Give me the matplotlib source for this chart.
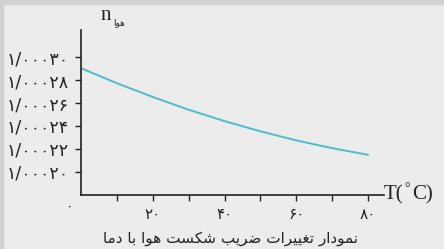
import numpy as np
import matplotlib
matplotlib.use("Agg")
import matplotlib.pyplot as plt
from matplotlib.patches import Rectangle

# data
temps = [0, 10, 20, 30, 40, 50, 60, 70, 80]
n_air = [1.0002903, 1.0002772, 1.0002652, 1.0002541, 1.0002442,
         1.0002353, 1.0002274, 1.0002206, 1.0002148]

y_ticks = [1.00020, 1.00022, 1.00024, 1.00026, 1.00028, 1.00030]
y_labels = ["۱/۰۰۰۲۰", "۱/۰۰۰۲۲", "۱/۰۰۰۲۴", "۱/۰۰۰۲۶", "۱/۰۰۰۲۸", "۱/۰۰۰۳۰"]
x_ticks = [10, 20, 30, 40, 50, 60, 70, 80]
x_labels = ["", "۲۰", "", "۴۰", "", "۶۰", "", "۸۰"]

caption = "نمودار تغییرات ضریب شکست هوا با دما"
n_sub = "هوا"

# (isolated, final, initial, medial); None for right-joining letters
FORMS = {
    "ا": (0xFE8D, 0xFE8E, None, None),
    "ب": (0xFE8F, 0xFE90, 0xFE91, 0xFE92),
    "ت": (0xFE95, 0xFE96, 0xFE97, 0xFE98),
    "د": (0xFEA9, 0xFEAA, None, None),
    "ر": (0xFEAD, 0xFEAE, None, None),
    "س": (0xFEB1, 0xFEB2, 0xFEB3, 0xFEB4),
    "ش": (0xFEB5, 0xFEB6, 0xFEB7, 0xFEB8),
    "ض": (0xFEBD, 0xFEBE, 0xFEBF, 0xFEC0),
    "غ": (0xFECD, 0xFECE, 0xFECF, 0xFED0),
    "م": (0xFEE1, 0xFEE2, 0xFEE3, 0xFEE4),
    "ن": (0xFEE5, 0xFEE6, 0xFEE7, 0xFEE8),
    "ه": (0xFEE9, 0xFEEA, 0xFEEB, 0xFEEC),
    "و": (0xFEED, 0xFEEE, None, None),
    "ی": (0xFBFC, 0xFBFD, 0xFBFE, 0xFBFF),
    "ک": (0xFB8E, 0xFB8F, 0xFB90, 0xFB91),
}


def shape(text):
    # matplotlib has no arabic shaping, so pick the joined forms by hand
    out = []
    for i, ch in enumerate(text):
        if ch not in FORMS:
            out.append(ch)
            continue
        prev = text[i - 1] if i > 0 else None
        nxt = text[i + 1] if i + 1 < len(text) else None
        join_prev = prev in FORMS and FORMS[prev][2] is not None
        join_next = nxt in FORMS and FORMS[ch][2] is not None
        iso, fin, ini, med = FORMS[ch]
        if join_prev and join_next:
            out.append(chr(med))
        elif join_prev:
            out.append(chr(fin))
        elif join_next:
            out.append(chr(ini))
        else:
            out.append(chr(iso))
    return "".join(out)[::-1]


fig = plt.figure(figsize=(4.44, 2.49), dpi=100)
fig.patch.set_facecolor("#ececec")
fig.patches.append(Rectangle((0, 1 - 4 / 249), 1, 4 / 249, transform=fig.transFigure,
                             color="#d2d2d2", zorder=0))
fig.patches.append(Rectangle((0, 0), 3 / 444, 1, transform=fig.transFigure,
                             color="#d2d2d2", zorder=0))

ax = fig.add_axes([0.1833, 0.2169, 0.6815, 0.6627])
ax.set_facecolor("none")

ax.plot(temps, n_air, color="#4dbec6", lw=1.4)

ax.set_xlim(0, 84.5)
ax.set_ylim(1.0001797, 1.0003238)

for s in ["top", "right"]:
    ax.spines[s].set_visible(False)
for s in ["left", "bottom"]:
    ax.spines[s].set_color("#222222")
    ax.spines[s].set_linewidth(1.2)

ax.set_xticks(x_ticks)
ax.set_xticklabels(x_labels, fontsize=11, family="DejaVu Sans")
ax.set_yticks(y_ticks)
ax.set_yticklabels(y_labels, fontsize=12.5, family="DejaVu Sans")
ax.tick_params(axis="both", direction="out", length=4, width=1, color="#222222",
               labelcolor="#222222")
ax.tick_params(axis="x", pad=5)
ax.tick_params(axis="y", pad=5)

ax.text(-0.025, -0.03, "۰", transform=ax.transAxes, ha="right", va="top",
        fontsize=10, color="#222222", family="DejaVu Sans")

fig.text(384 / 444, 1 - 195 / 249, "T(", ha="left", va="center",
         fontsize=15, family="Liberation Serif", color="#222222")
fig.text(404 / 444, 1 - 189 / 249, "°", ha="left", va="center",
         fontsize=10, family="Liberation Serif", color="#222222")
fig.text(412 / 444, 1 - 195 / 249, "C)", ha="left", va="center",
         fontsize=15, family="Liberation Serif", color="#222222")

fig.text(101 / 444, 1 - 15 / 249, "n", ha="left", va="center",
         fontsize=15, family="Liberation Serif", color="#222222")
fig.text(113 / 444, 1 - 23 / 249, shape(n_sub), ha="left", va="center",
         fontsize=6.5, family="DejaVu Sans", color="#222222")

fig.text(231 / 444, 1 - 239 / 249, shape(caption), ha="center", va="center",
         fontsize=11, family="DejaVu Sans", color="#222222")

fig.savefig("out.png", dpi=100, facecolor=fig.get_facecolor())
